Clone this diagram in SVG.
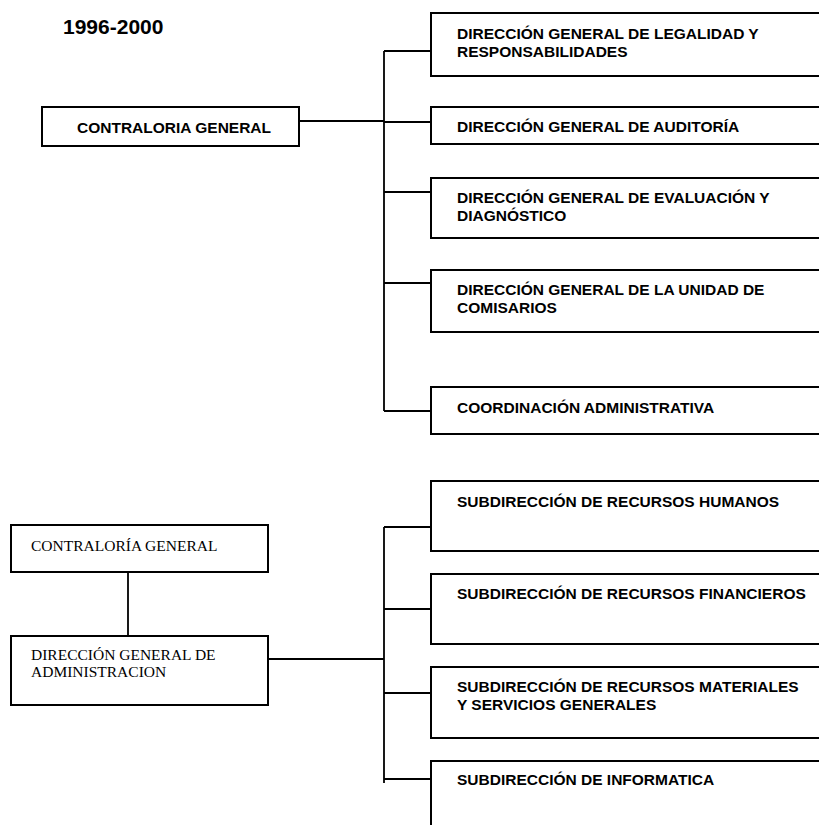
<svg xmlns="http://www.w3.org/2000/svg" width="819" height="825" viewBox="0 0 819 825">
<style>
.box{fill:#fff;stroke:#000;stroke-width:2}
.b{font-family:"Liberation Sans",Arial,sans-serif;font-weight:bold;font-size:15.5px;fill:#000}
.s{font-family:"Liberation Serif","Times New Roman",serif;font-size:15.5px;fill:#000}
.ln{fill:none;stroke:#000;stroke-width:1.8}
</style>
<rect width="819" height="825" fill="#fff"/>
<text class="b" x="63" y="34" style="font-size:21px">1996-2000</text>
<g id="connectors">
<path class="ln" d="M299 121H384M384 51V411M384 51H431M384 122H431M384 192H431M384 283H431M384 411H431"/>
<path class="ln" d="M128 572V636M268 659H384M384 527V783M384 527H431M384 609H431M384 693H431M384 779H434"/>
</g>
<g id="contraloria-top">
<rect class="box" x="42" y="107" width="257" height="39"/>
<text class="b" x="77" y="133">CONTRALORIA GENERAL</text>
</g>
<g id="dg-legalidad">
<rect class="box" x="431" y="13" width="400" height="63"/>
<text class="b" x="457" y="39">DIRECCIÓN GENERAL DE LEGALIDAD Y</text>
<text class="b" x="457" y="57">RESPONSABILIDADES</text>
</g>
<g id="dg-auditoria">
<rect class="box" x="431" y="107" width="400" height="37"/>
<text class="b" x="457" y="132">DIRECCIÓN GENERAL DE AUDITORÍA</text>
</g>
<g id="dg-evaluacion">
<rect class="box" x="431" y="178" width="400" height="60"/>
<text class="b" x="457" y="203">DIRECCIÓN GENERAL DE EVALUACIÓN Y</text>
<text class="b" x="457" y="221">DIAGNÓSTICO</text>
</g>
<g id="dg-comisarios">
<rect class="box" x="431" y="270" width="400" height="62"/>
<text class="b" x="457" y="295">DIRECCIÓN GENERAL DE LA UNIDAD DE</text>
<text class="b" x="457" y="313">COMISARIOS</text>
</g>
<g id="coord-admin">
<rect class="box" x="431" y="387" width="400" height="47"/>
<text class="b" x="457" y="413">COORDINACIÓN ADMINISTRATIVA</text>
</g>
<g id="contraloria-bottom">
<rect class="box" x="11" y="525" width="257" height="47"/>
<text class="s" x="31" y="551">CONTRALORÍA GENERAL</text>
</g>
<g id="dg-administracion">
<rect class="box" x="11" y="636" width="257" height="69"/>
<text class="s" x="31" y="660">DIRECCIÓN GENERAL DE</text>
<text class="s" x="31" y="677">ADMINISTRACION</text>
</g>
<g id="sub-humanos">
<rect class="box" x="431" y="481" width="400" height="70"/>
<text class="b" x="457" y="507">SUBDIRECCIÓN DE RECURSOS HUMANOS</text>
</g>
<g id="sub-financieros">
<rect class="box" x="431" y="574" width="400" height="70"/>
<text class="b" x="457" y="599">SUBDIRECCIÓN DE RECURSOS FINANCIEROS</text>
</g>
<g id="sub-materiales">
<rect class="box" x="431" y="667" width="400" height="71"/>
<text class="b" x="457" y="692">SUBDIRECCIÓN DE RECURSOS MATERIALES</text>
<text class="b" x="457" y="710">Y SERVICIOS GENERALES</text>
</g>
<g id="sub-informatica">
<rect class="box" x="431" y="761" width="400" height="80"/>
<text class="b" x="457" y="785">SUBDIRECCIÓN DE INFORMATICA</text>
</g>
</svg>
